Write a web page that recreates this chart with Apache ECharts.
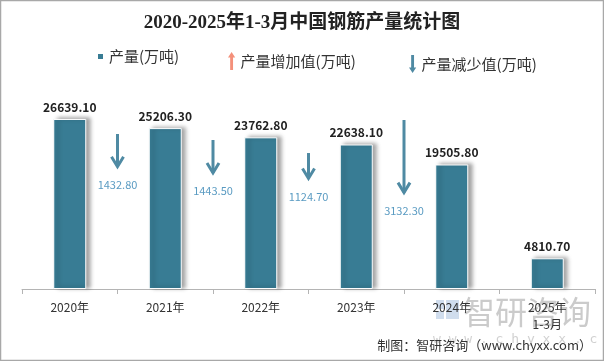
<!DOCTYPE html>
<html><head><meta charset="utf-8">
<script src="https://cdn.jsdelivr.net/npm/echarts@6/dist/echarts.min.js"></script>
<style>html,body{margin:0;padding:0;background:#fff}#c{width:604px;height:361px}</style>
</head><body><div id="c"></div>
<script>
var categories = ['2020年', '2021年', '2022年', '2023年', '2024年', '2025年\n1-3月'];
var production = [26639.10, 25206.30, 23762.80, 22638.10, 19505.80, 4810.70];
// decrease between consecutive years (shown between bars)
var decreaseValues = [1432.80, 1443.50, 1124.70, 3132.30];
// base level of each decrease arrow on the secondary (arrow) axis
var arrowBase = [5163, 4897, 4662, 4059];

var chart = echarts.init(document.getElementById('c'), null, {renderer: 'canvas'});
var CJK = '"Noto Sans CJK SC","Noto Sans",sans-serif';
var barColor = '#387C94';
var arrowColor = '#4F8AA3';
var upColor = '#F4907A';

var arrowData = decreaseValues.map(function (v, i) { return [i, arrowBase[i], v]; });

function renderArrow(params, api) {
  var idx = api.value(0), base = api.value(1), ch = api.value(2);
  var bw = api.size([1, 0])[0];
  var top = api.coord([idx, base + ch]);
  var tip = api.coord([idx, base]);
  var x = top[0] + bw / 2;
  var st = {stroke: arrowColor, lineWidth: 3, fill: null, lineCap: 'butt'};
  return {
    type: 'group',
    children: [
      {type: 'line', shape: {x1: x, y1: top[1], x2: x, y2: tip[1] - 1}, style: st},
      {type: 'polyline', shape: {points: [[x - 6, tip[1] - 11], [x, tip[1] - 1], [x + 6, tip[1] - 11]]}, style: st},
      {type: 'text', x: x, y: tip[1] + 17, style: {text: ch.toFixed(2), fill: '#5A9BC2', font: '11px ' + CJK, align: 'center', verticalAlign: 'middle'}}
    ]
  };
}

var upIcon = 'path://M4,0 L8,6 L5.6,6 L5.6,20 L2.4,20 L2.4,6 L0,6 Z';
var downIcon = 'path://M2.4,0 L5.6,0 L5.6,14 L8,14 L4,20 L0,14 L2.4,14 Z';

chart.setOption({
  animation: false,
  backgroundColor: '#fff',
  title: {
    text: '2020-2025年1-3月中国钢筋产量统计图',
    left: 'center', top: 9,
    textStyle: {fontSize: 19, fontWeight: 'bold', color: '#222', fontFamily: '"Liberation Serif","Noto Sans CJK SC",serif'}
  },
  legend: [
    {left: 96, top: 49, padding: 0, itemWidth: 7, itemHeight: 7, itemGap: 4, icon: 'rect',
     data: ['产量(万吨)'], textStyle: {fontSize: 15, color: '#333', fontFamily: CJK}},
    {left: 228, top: 52, padding: 0, itemWidth: 8, itemHeight: 18, itemGap: 2,
     data: [{name: '产量增加值(万吨)', icon: upIcon}], textStyle: {fontSize: 15, color: '#333', fontFamily: CJK, padding: [0, 0, 0, 0]}},
    {left: 409, top: 55, padding: 0, itemWidth: 8, itemHeight: 18, itemGap: 2,
     data: [{name: '产量减少值(万吨)', icon: downIcon}], textStyle: {fontSize: 15, color: '#333', fontFamily: CJK, padding: [0, 0, 0, 0]}}
  ],
  grid: {left: 22, right: 9, top: 97.5, bottom: 72, containLabel: false},
  xAxis: {
    type: 'category', data: categories, boundaryGap: true,
    axisLine: {lineStyle: {color: '#B4B4B4'}},
    axisTick: {show: true, length: 5, lineStyle: {color: '#B4B4B4'}},
    axisLabel: {color: '#333', fontSize: 12, fontFamily: CJK, margin: 10, lineHeight: 17}
  },
  yAxis: [
    {type: 'value', min: 0, max: 30000, show: false, splitLine: {show: false}},
    {type: 'value', min: 0, max: 8150, show: false, splitLine: {show: false}}
  ],
  series: [
    {
      name: '产量(万吨)', type: 'bar', data: production, barWidth: 33,
      itemStyle: {color: barColor, borderColor: '#fff', borderWidth: 1,
        shadowColor: 'rgba(0,0,0,0.35)', shadowBlur: 4, shadowOffsetX: 4, shadowOffsetY: -1},
      label: {show: true, position: 'top', distance: 6, formatter: function (p) { return p.value.toFixed(2); },
        fontSize: 12, fontWeight: 'bold', color: '#222', fontFamily: CJK}
    },
    {
      name: '产量增加值(万吨)', type: 'custom', yAxisIndex: 1, data: [],
      itemStyle: {color: upColor}, renderItem: function () { return null; }
    },
    {
      name: '产量减少值(万吨)', type: 'custom', yAxisIndex: 1, data: arrowData,
      itemStyle: {color: arrowColor}, renderItem: renderArrow, z: 5
    }
  ],
  graphic: [
    {type: 'rect', shape: {x: 0.5, y: 0.5, width: 603, height: 360}, style: {fill: null, stroke: '#A8A8A8', lineWidth: 1.5}, silent: true},
    {type: 'rect', shape: {x: 436, y: 300, width: 8, height: 9}, style: {fill: 'rgba(150,180,215,0.45)'}, z: 0},
    {type: 'rect', shape: {x: 436, y: 311, width: 8, height: 8}, style: {fill: 'rgba(150,180,215,0.45)'}, z: 0},
    {type: 'rect', shape: {x: 446, y: 300, width: 13, height: 19}, style: {fill: 'rgba(150,180,215,0.45)'}, z: 0},
    {type: 'text', x: 463, y: 296, style: {text: '智研咨询', fill: 'rgba(140,140,140,0.45)', font: '32px ' + CJK}, z: 0},
    {type: 'text', x: 433, y: 333, style: {text: 'w w w . c h y x x . c o m', fill: 'rgba(150,150,150,0.45)', font: '13px "DejaVu Sans Mono",monospace'}, z: 0},
    {type: 'text', right: 12, top: 339, style: {text: '制图：智研咨询（www.chyxx.com）', fill: '#333', font: '13px ' + CJK}}
  ]
});
</script></body></html>
